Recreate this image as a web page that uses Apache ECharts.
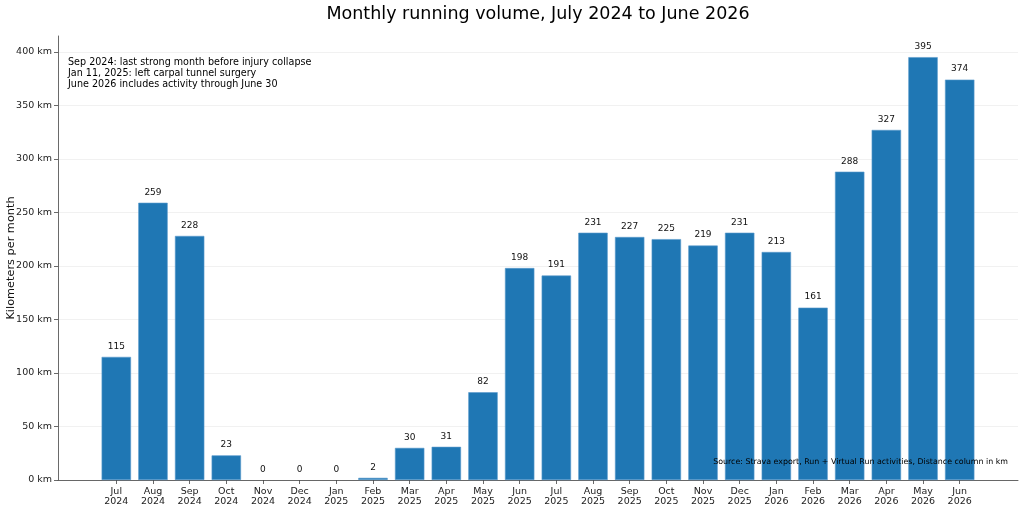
<!DOCTYPE html>
<html><head><meta charset="utf-8">
<script src="https://cdn.jsdelivr.net/npm/echarts@6/dist/echarts.min.js"></script>
<style>html,body{margin:0;padding:0;background:#fff}#c{width:1024px;height:509px}</style>
</head><body><div id="c"></div>
<script>
const months = ["Jul\n2024","Aug\n2024","Sep\n2024","Oct\n2024","Nov\n2024","Dec\n2024","Jan\n2025","Feb\n2025","Mar\n2025","Apr\n2025","May\n2025","Jun\n2025","Jul\n2025","Aug\n2025","Sep\n2025","Oct\n2025","Nov\n2025","Dec\n2025","Jan\n2026","Feb\n2026","Mar\n2026","Apr\n2026","May\n2026","Jun\n2026"];
const km = [115,259,228,23,0,0,0,2,30,31,82,198,191,231,227,225,219,231,213,161,288,327,395,374];
const yTicks = [0,50,100,150,200,250,300,350,400];
const notes = ["Sep 2024: last strong month before injury collapse","Jan 11, 2025: left carpal tunnel surgery","June 2026 includes activity through June 30"];
const sourceText = "Source: Strava export, Run + Virtual Run activities, Distance column in km";
const titleText = "Monthly running volume, July 2024 to June 2026";
const yName = "Kilometers per month";

const F = "DejaVu Sans";
const AX = '#444';
const idx = months.map((_, i) => i);
const chart = echarts.init(document.getElementById('c'), null, {renderer: 'canvas'});
chart.setOption({
  animation: false,
  backgroundColor: '#fff',
  title: {text: titleText, left: 533, top: 0, textAlign: 'center',
    textStyle: {fontFamily: F, fontSize: 17.5, fontWeight: 'normal', color: '#000'}},
  grid: {left: 58, right: 6, top: 36, bottom: 29, containLabel: false, outerBoundsMode: 'none'},
  xAxis: {type: 'value', min: -1.59, max: 24.59,
    splitLine: {show: false},
    axisLine: {show: true, onZero: false, lineStyle: {color: AX, width: 0.8}},
    axisTick: {show: true, customValues: idx, length: 4, lineStyle: {color: AX, width: 0.8}},
    axisLabel: {customValues: idx, formatter: v => months[Math.round(v)], fontFamily: F, fontSize: 9.5, color: '#222', lineHeight: 10.5, margin: 6}
  },
  yAxis: {type: 'value', min: 0, max: 414.75,
    axisLine: {show: true, onZero: false, lineStyle: {color: AX, width: 0.8}},
    axisTick: {show: true, customValues: yTicks, length: 4, lineStyle: {color: AX, width: 0.8}},
    axisLabel: {customValues: yTicks, formatter: v => v + ' km', fontFamily: F, fontSize: 9.5, color: '#222', margin: 6},
    splitLine: {show: true, customValues: yTicks, lineStyle: {color: '#eeeeee', width: 0.8}}
  },
  series: [{
    type: 'bar', barWidth: 29.4,
    data: km.map((v, i) => ({value: [i, v], itemStyle: v === 0 ? {borderWidth: 0} : {}})),
    itemStyle: {color: '#1f77b4', borderColor: '#5a9bcc', borderWidth: 0.6},
    label: {show: true, position: 'top', distance: 6, fontFamily: F, fontSize: 9, color: '#111',
      formatter: p => String(p.value[1])}
  }],
  graphic: [
    {type: 'text', x: 11, y: 258, rotation: Math.PI / 2, z: 100,
      style: {text: yName, font: '11.3px "DejaVu Sans"', fill: '#111', align: 'center', verticalAlign: 'middle'}},
    {type: 'text', left: 68, top: 57, z: 100, style: {text: notes.join('\n'), font: '9.6px "DejaVu Sans"', lineHeight: 11, fill: '#000'}},
    {type: 'text', right: 16, top: 458, z: 100, style: {text: sourceText, font: '7.9px "DejaVu Sans"', fill: '#000'}}
  ]
});
</script></body></html>
